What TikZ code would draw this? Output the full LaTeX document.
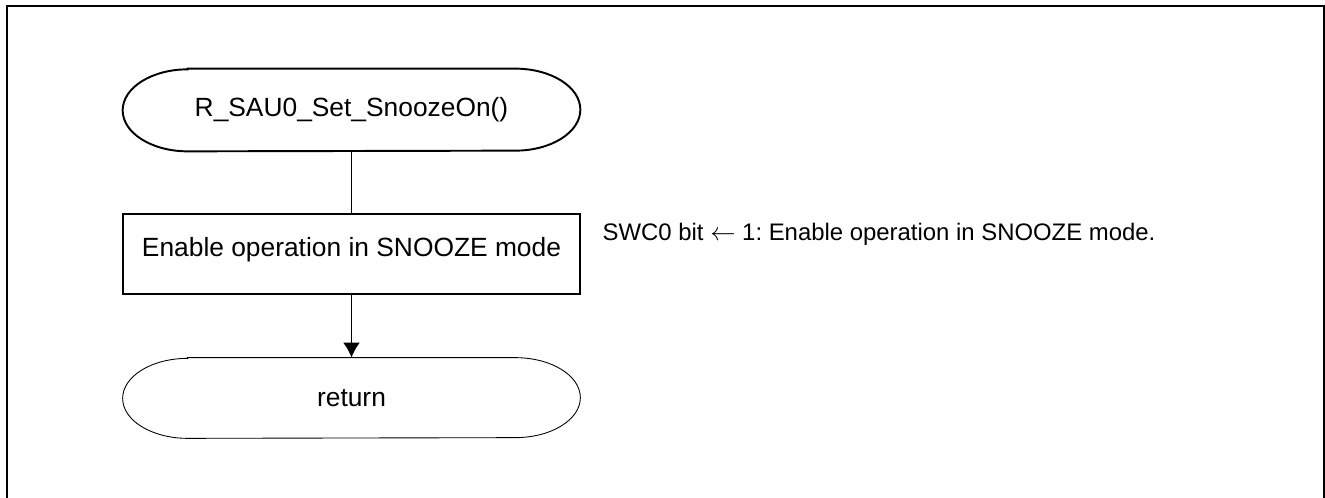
\documentclass[tikz,border=0pt]{standalone}
\usepackage{fontspec}
\setmainfont{Liberation Sans}
\usepackage{tikz}
\usetikzlibrary{arrows.meta,positioning}
\frenchspacing

\begin{document}
\begin{tikzpicture}[
  term/.style={rectangle, minimum width=9.14cm, minimum height=1.6cm, align=center, font=\fontsize{15}{18}\selectfont},
  proc/.style={rectangle, draw, line width=0.75pt, minimum width=9.14cm, minimum height=1.6cm, text depth=0.3cm, font=\fontsize{15}{18}\selectfont},
  arrow/.style={-{Latex[length=0.3cm,width=0.34cm]}, line width=1.1pt},
  link/.style={line width=1.1pt},
  note/.style={font=\fontsize{13.6}{16}\selectfont, anchor=west}
]
  \useasboundingbox (0,0) rectangle (26.5,9.96);
  \draw[line width=1.1pt] (0.14,-0.2) -- (0.14,9.84) -- (26.48,9.84) -- (26.48,-0.2);

  \node[term, minimum height=1.64cm] (start) at (7.03,7.76) {R\_SAU0\_Set\_SnoozeOn()};
  \node[proc] (snooze) at (7.03,4.88) {Enable operation in SNOOZE mode};
  \node[term] (ret) at (7.03,2.0) {return};

  % terminal outlines
  \draw[line width=1.1pt] ([xshift=1.3cm]start.north west) -- ([xshift=-1.3cm]start.north east)
    arc[start angle=90, end angle=-90, x radius=1.3cm, y radius=0.82cm]
    -- ([xshift=1.3cm]start.south west)
    arc[start angle=270, end angle=90, x radius=1.3cm, y radius=0.82cm] -- cycle;
  \draw[line width=0.5pt] ([xshift=1.3cm]ret.north west) -- ([xshift=-1.3cm]ret.north east)
    arc[start angle=90, end angle=-90, x radius=1.3cm, y radius=0.8cm]
    -- ([xshift=1.3cm]ret.south west)
    arc[start angle=270, end angle=90, x radius=1.3cm, y radius=0.8cm] -- cycle;

  \draw[link] (start) -- (snooze);
  \draw[arrow] (snooze) -- (ret);

  \node[note] (swc) at (11.93,5.28) {SWC0 bit $\leftarrow$ 1: Enable operation in SNOOZE mode.};
\end{tikzpicture}
\end{document}
